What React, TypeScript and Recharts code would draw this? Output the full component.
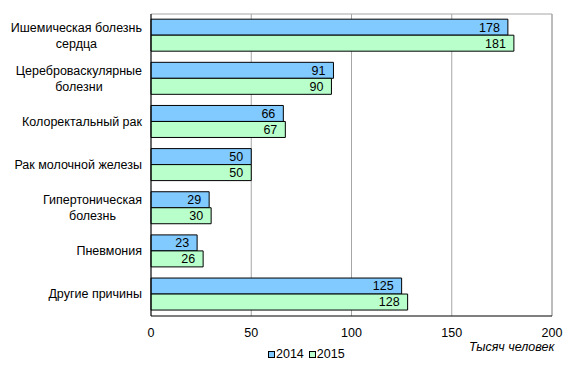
import React from "react";
import { Bar, BarChart, CartesianGrid, LabelList, XAxis, YAxis } from "recharts";

const causes = [
  "Ишемическая болезнь|сердца",
  "Цереброваскулярные|болезни",
  "Колоректальный рак",
  "Рак молочной железы",
  "Гипертоническая|болезнь",
  "Пневмония",
  "Другие причины",
];
const values2014 = [178, 91, 66, 50, 29, 23, 125];
const values2015 = [181, 90, 67, 50, 30, 26, 128];
const xTicks = [0, 50, 100, 150, 200];

const data = causes.map((c, i) => ({ cause: c, y2014: values2014[i], y2015: values2015[i] }));

const FONT = "Liberation Sans, Arial, sans-serif";
const FS = 12.5;

let ctx: CanvasRenderingContext2D | null = null;
const measure = (s: string) => {
  if (!ctx) ctx = document.createElement("canvas").getContext("2d");
  if (!ctx) return s.length * 6.8;
  ctx.font = FS + "px 'Liberation Sans', Arial";
  return ctx.measureText(s).width;
};

const CauseTick = (props: any) => {
  const { y, payload } = props;
  const lines = String(payload.value).split("|");
  const right = 142;
  if (lines.length === 1) {
    return (
      <text x={right} y={y} dy={4} textAnchor="end" fontSize={FS} fontFamily={FONT} fill="#000">
        {lines[0]}
      </text>
    );
  }
  const cx = right - measure(lines[0]) / 2;
  return (
    <g>
      {lines.map((l, i) => (
        <text key={i} x={cx} y={y - 8 + i * 16} dy={4} textAnchor="middle" fontSize={FS} fontFamily={FONT} fill="#000">
          {l}
        </text>
      ))}
    </g>
  );
};

const App = () => {
  return (
    <div style={{ position: "absolute", left: 0, top: 0, width: 578, height: 371, background: "#fff" }}>
      <BarChart
        width={578}
        height={371}
        data={data}
        layout="vertical"
        margin={{ top: 14, right: 26, left: 0, bottom: 35 }}
        barGap={0}
        barCategoryGap="12%"
      >
        <CartesianGrid horizontal={false} stroke="#a6a6a6" />
        <XAxis
          type="number"
          domain={[0, 200]}
          ticks={xTicks}
          tickLine={false}
          tickSize={10}
          axisLine={{ stroke: "#000" }}
          tick={{ fontSize: FS, fontFamily: FONT, fill: "#000" }}
          height={20}
        />
        <YAxis
          type="category"
          dataKey="cause"
          width={151}
          tickLine={false}
          axisLine={{ stroke: "#000" }}
          tick={<CauseTick />}
          interval={0}
        />
        <Bar dataKey="y2014" fill="#80caff" stroke="#000" strokeWidth={1} isAnimationActive={false}>
          <LabelList dataKey="y2014" position="insideRight" fontSize={FS} fontFamily={FONT} fill="#000" offset={8} />
        </Bar>
        <Bar dataKey="y2015" fill="#b8ffcc" stroke="#000" strokeWidth={1} isAnimationActive={false}>
          <LabelList dataKey="y2015" position="insideRight" fontSize={FS} fontFamily={FONT} fill="#000" offset={8} />
        </Bar>
        <line x1={552} y1={14} x2={552} y2={316} stroke="#a6a6a6" />
        <line x1={151} y1={14} x2={552} y2={14} stroke="#a6a6a6" />
      </BarChart>
      <div style={{ position: "absolute", left: 268, top: 347, fontFamily: FONT, fontSize: FS, display: "flex", gap: 5, alignItems: "center" }}>
        <span style={{ display: "flex", alignItems: "center", gap: 1 }}>
          <span style={{ width: 5, height: 5, background: "#80caff", border: "1px solid #000", display: "inline-block" }} />
          2014
        </span>
        <span style={{ display: "flex", alignItems: "center", gap: 1 }}>
          <span style={{ width: 5, height: 5, background: "#b8ffcc", border: "1px solid #000", display: "inline-block" }} />
          2015
        </span>
      </div>
      <div style={{ position: "absolute", left: 469, top: 340, fontFamily: FONT, fontSize: FS, fontStyle: "italic" }}>
        Тысяч человек
      </div>
    </div>
  );
};

export default App;
